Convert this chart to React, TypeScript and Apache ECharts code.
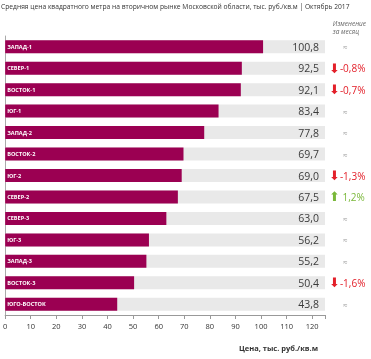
import React, { useEffect, useRef } from "react";
import * as echarts from "echarts";

const categories = ["ЗАПАД-1", "СЕВЕР-1", "ВОСТОК-1", "ЮГ-1", "ЗАПАД-2", "ВОСТОК-2", "ЮГ-2", "СЕВЕР-2", "СЕВЕР-3", "ЮГ-3", "ЗАПАД-3", "ВОСТОК-3", "ЮГО-ВОСТОК"];
const values = [100.8, 92.5, 92.1, 83.4, 77.8, 69.7, 69.0, 67.5, 63.0, 56.2, 55.2, 50.4, 43.8];
const changes: (number | null)[] = [null, -0.8, -0.7, null, null, null, -1.3, 1.2, null, null, null, -1.6, null];
const titleText = "Средняя цена квадратного метра на вторичном рынке Московской области, тыс. руб./кв.м | Октябрь 2017";
const axisTitle = "Цена, тыс. руб./кв.м";
const changeHeader = "Изменение\nза месяц";

const fmt = (v: number) => v.toFixed(1).replace(".", ",");

export default function App() {
  const ref = useRef<HTMLDivElement>(null);
  useEffect(() => {
    if (!ref.current) return;
    const chart = echarts.init(ref.current, null, { renderer: "svg" });
    const font = "'Open Sans', 'Noto Sans', sans-serif";
    chart.setOption({
      animation: false,
      textStyle: { fontFamily: font },
      graphic: [
        {
          type: "text",
          left: 1,
          top: 3,
          style: { text: titleText, font: `6.7px ${font}`, fill: "#333" },
        },
        {
          type: "text",
          right: 5,
          top: 19,
          style: { text: changeHeader, font: `italic 6.5px ${font}`, fill: "#666", align: "right", lineHeight: 8 },
        },
        {
          type: "text",
          right: 53,
          top: 344,
          style: { text: axisTitle, font: `bold 7.5px ${font}`, fill: "#333" },
        },
      ],
      grid: { left: 2, right: 46, top: 36, bottom: 44, containLabel: false },
      xAxis: {
        type: "value",
        min: 0,
        max: 125,
        interval: 10,
        splitLine: { show: false },
        axisLine: { show: true, lineStyle: { color: "#999" } },
        axisTick: { show: true, length: 4, lineStyle: { color: "#999" } },
        axisLabel: {
          fontSize: 7.5,
          color: "#333",
          margin: 7,
          formatter: (v: number) => (v % 10 === 0 ? String(v) : ""),
        },
      },
      yAxis: [
        {
          type: "category",
          data: categories,
          inverse: true,
          axisLine: { show: true, lineStyle: { color: "#aaa" } },
          axisTick: { show: false },
          axisLabel: { show: false },
        },
        {
          type: "category",
          data: categories,
          inverse: true,
          position: "right",
          z: 5,
          axisLine: { show: false },
          axisTick: { show: false },
          axisLabel: {
            inside: true,
            margin: 6,
            fontSize: 10.5,
            color: "#3a3a3a",
            formatter: (_: string, i: number) => fmt(values[i]),
          },
        },
        {
          type: "category",
          data: categories,
          inverse: true,
          position: "right",
          axisLine: { show: false },
          axisTick: { show: false },
          axisLabel: {
            margin: 4,
            align: "left",
            formatter: (_: string, i: number) => {
              const c = changes[i];
              if (c === null) return "{ap|≈}";
              const t = (c > 0 ? " " : "") + fmt(c) + "%";
              return c < 0 ? `{dn|⬇}{r|${t}}` : `{up|⬆}{g|${t}}`;
            },
            rich: {
              ap: { fontSize: 8, color: "#999", padding: [0, 0, 0, 14] },
              dn: { fontSize: 13, color: "#e3202a", fontFamily: "DejaVu Sans" },
              up: { fontSize: 13, color: "#7ab83a", fontFamily: "DejaVu Sans" },
              r: { fontSize: 10, color: "#e3202a" },
              g: { fontSize: 10, color: "#7ab83a" },
            },
          },
        },
      ],
      series: [
        {
          type: "bar",
          data: values,
          barWidth: 13,
          itemStyle: { color: "#9b0052" },
          showBackground: true,
          backgroundStyle: { color: "#e9e9e9" },
          label: {
            show: true,
            position: "insideLeft",
            offset: [-3, 0],
            formatter: "{b}",
            color: "#fff",
            fontSize: 5.6,
            fontWeight: "bold",
          },
        },
      ],
    });
    return () => chart.dispose();
  }, []);
  return <div ref={ref} style={{ position: "fixed", left: 0, top: 0, width: 371, height: 359 }} />;
}
